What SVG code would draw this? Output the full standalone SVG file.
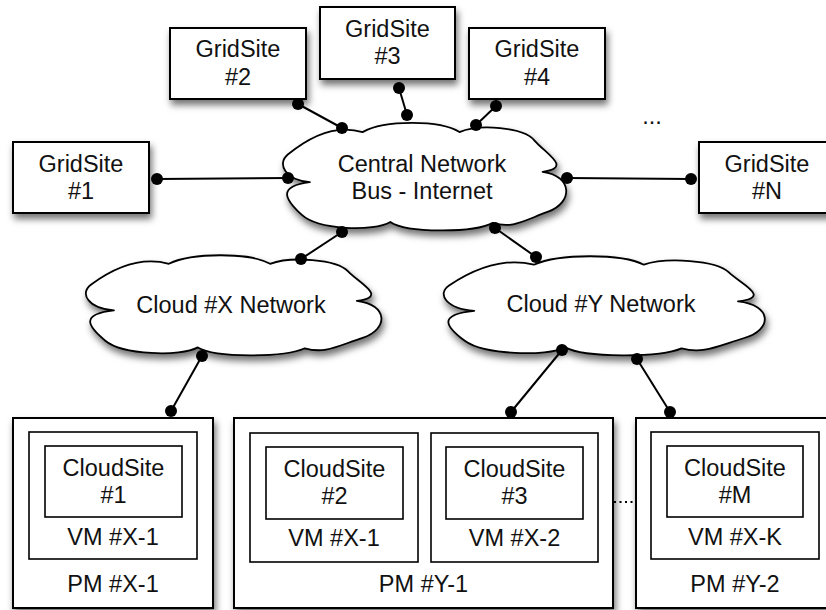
<svg xmlns="http://www.w3.org/2000/svg" width="826" height="610" viewBox="0 0 826 610">
<defs>
<filter id="sh" x="-20%" y="-20%" width="140%" height="160%">
<feDropShadow dx="2" dy="5" stdDeviation="3.5" flood-color="#000" flood-opacity="0.55"/>
</filter>
</defs>
<style>
.box{fill:#fff;stroke:#000;stroke-width:2}
.inner{fill:#fff;stroke:#000;stroke-width:1.6}
.cl{fill:#fff;stroke:#000;stroke-width:1.8;stroke-linejoin:round}
text{font-family:"Liberation Sans",Arial,Helvetica,sans-serif;font-size:23.5px;fill:#111;text-anchor:middle}
.ln{stroke:#000;stroke-width:2;fill:none}
.dot{fill:#000}
</style>
<rect width="826" height="610" fill="#fff"/>

<g id="gridsite1"><rect class="box" x="13" y="142" width="136" height="71" filter="url(#sh)"/><text x="81" y="172">GridSite</text><text x="81" y="199">#1</text></g>
<g id="gridsite2"><rect class="box" x="170" y="28" width="136" height="71" filter="url(#sh)"/><text x="238" y="57">GridSite</text><text x="238" y="85">#2</text></g>
<g id="gridsite3"><rect class="box" x="320" y="7" width="135" height="72" filter="url(#sh)"/><text x="387.5" y="37">GridSite</text><text x="387.5" y="64">#3</text></g>
<g id="gridsite4"><rect class="box" x="469" y="28" width="136" height="71" filter="url(#sh)"/><text x="537" y="57">GridSite</text><text x="537" y="85">#4</text></g>
<g id="gridsiteN"><rect class="box" x="699" y="142" width="136" height="71" filter="url(#sh)"/><text x="767" y="172">GridSite</text><text x="767" y="199">#N</text></g>
<text x="652" y="124">...</text>

<g id="central"><path class="cl" filter="url(#sh)" d="M 309.9,182.1 C 285,180 276.7,163.7 287.8,154.5 C 298.9,145.4 329.3,121.9 362.6,132.1 C 384.7,119.9 440.1,119.9 459.5,132.1 C 478.9,123.9 523.2,127 534.3,140.3 C 545.4,153.5 573.1,167.8 542.6,171.9 C 573.1,176 573.1,202.5 548.2,211.7 C 523.2,220.8 512.1,229 492.8,222.9 C 473.4,233.1 406.9,233.1 390.3,221.9 C 373.6,232.1 318.2,230 301.6,214.7 C 285,199.4 276.7,186.2 309.9,182.1 Z"/><text x="422" y="172">Central Network</text><text x="422" y="199">Bus - Internet</text></g>
<g id="cloudX"><path class="cl" filter="url(#sh)" d="M 114,310.3 C 88,308.4 79.3,293.2 90.9,284.7 C 102.5,276.1 134.2,254.3 168.9,263.8 C 192,252.4 249.8,252.4 270.1,263.8 C 290.3,256.2 336.5,259 348.1,271.4 C 359.7,283.7 388.6,297 356.8,300.8 C 388.6,304.6 388.6,329.3 362.6,337.9 C 336.5,346.4 325,354 304.8,348.3 C 284.5,357.8 215.2,357.8 197.8,347.4 C 180.5,356.9 122.7,355 105.3,340.7 C 88,326.5 79.3,314.1 114,310.3 Z"/><text x="231" y="313">Cloud #X Network</text></g>
<g id="cloudY"><path class="cl" filter="url(#sh)" d="M 474.3,310.8 C 446,308.9 436.6,293.8 449.1,285.4 C 461.7,276.9 496.2,255.3 533.9,264.7 C 559,253.4 621.8,253.4 643.8,264.7 C 665.8,257.2 716,260 728.6,272.2 C 741.2,284.4 772.6,297.6 738,301.4 C 772.6,305.1 772.6,329.6 744.3,338 C 716,346.5 703.5,354 681.5,348.4 C 659.5,357.8 584.2,357.8 565.3,347.4 C 546.5,356.8 483.7,354.9 464.8,340.8 C 446,326.7 436.6,314.5 474.3,310.8 Z"/><text x="601" y="312">Cloud #Y Network</text></g>

<g id="pmX1"><rect class="box" x="13" y="418" width="200" height="190" filter="url(#sh)"/><rect class="inner" x="29" y="432" width="168" height="127"/><rect class="inner" x="45" y="446" width="137" height="71"/><text x="113.5" y="476">CloudSite</text><text x="113.5" y="503">#1</text><text x="113" y="545">VM #X-1</text><text x="113" y="592">PM #X-1</text></g>
<g id="pmY1"><rect class="box" x="234" y="418" width="379" height="190" filter="url(#sh)"/><rect class="inner" x="250" y="433" width="168" height="129"/><rect class="inner" x="266" y="447" width="137" height="72"/><text x="334.5" y="477">CloudSite</text><text x="334.5" y="504">#2</text><text x="334" y="546">VM #X-1</text><rect class="inner" x="431" y="433" width="167" height="129"/><rect class="inner" x="446" y="447" width="137" height="72"/><text x="514.5" y="477">CloudSite</text><text x="514.5" y="504">#3</text><text x="514.5" y="546">VM #X-2</text><text x="423.5" y="592">PM #Y-1</text></g>
<g id="pmY2"><rect class="box" x="636" y="418" width="200" height="190" filter="url(#sh)"/><rect class="inner" x="651" y="432" width="168" height="127"/><rect class="inner" x="667" y="446" width="136" height="71"/><text x="735" y="476">CloudSite</text><text x="735" y="503">#M</text><text x="735" y="545">VM #X-K</text><text x="735" y="592">PM #Y-2</text></g>

<g id="connectors">
<line class="ln" x1="157" y1="179" x2="288" y2="178"/>
<line class="ln" x1="298" y1="104" x2="342" y2="128"/>
<line class="ln" x1="399" y1="88" x2="407" y2="115"/>
<line class="ln" x1="496" y1="106" x2="476" y2="125"/>
<line class="ln" x1="567" y1="178" x2="691" y2="179"/>
<line class="ln" x1="342" y1="232" x2="301" y2="259"/>
<line class="ln" x1="495" y1="228" x2="536" y2="257"/>
<line class="ln" x1="202" y1="356" x2="171" y2="411"/>
<line class="ln" x1="562" y1="350" x2="511" y2="412"/>
<line class="ln" x1="637" y1="359" x2="670" y2="412"/>
<line class="ln" x1="614" y1="502" x2="635" y2="502" stroke-dasharray="2 3.5"/>
<g class="dot">
<circle cx="157" cy="179" r="6"/><circle cx="288" cy="178" r="6"/>
<circle cx="298" cy="104" r="6"/><circle cx="342" cy="128" r="6"/>
<circle cx="399" cy="88" r="6"/><circle cx="407" cy="115" r="6"/>
<circle cx="496" cy="106" r="6"/><circle cx="476" cy="125" r="6"/>
<circle cx="567" cy="178" r="6"/><circle cx="691" cy="179" r="6"/>
<circle cx="342" cy="232" r="6"/><circle cx="301" cy="259" r="6"/>
<circle cx="495" cy="228" r="6"/><circle cx="536" cy="257" r="6"/>
<circle cx="202" cy="356" r="6"/><circle cx="171" cy="411" r="6"/>
<circle cx="562" cy="350" r="6"/><circle cx="511" cy="412" r="6"/>
<circle cx="637" cy="359" r="6"/><circle cx="670" cy="412" r="6"/>
</g>
</g>
</svg>
